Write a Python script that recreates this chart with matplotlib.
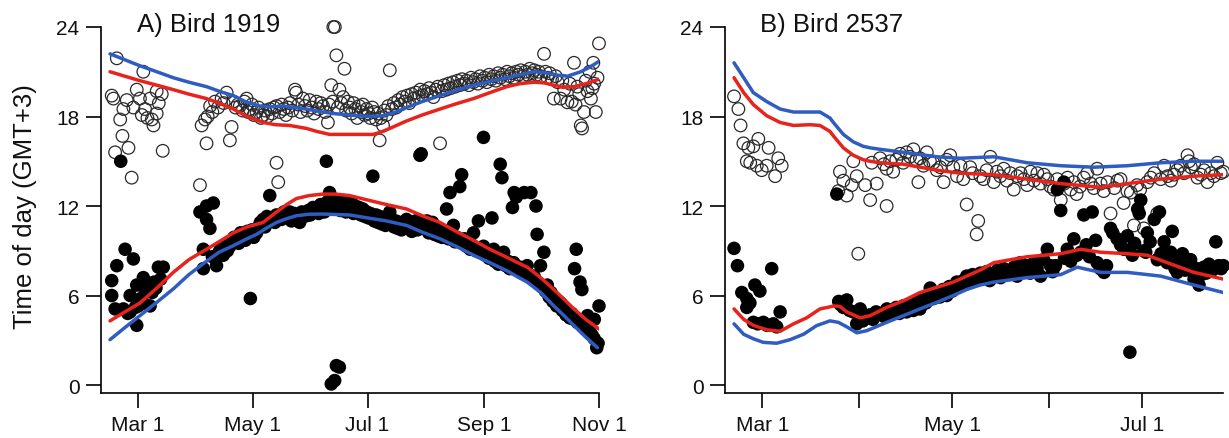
import matplotlib
matplotlib.use("Agg")
import matplotlib.pyplot as plt

plt.rcParams['font.family'] = ['Liberation Sans', 'DejaVu Sans']

# ---------------- Data (day of year, time of day in hours GMT+3) ----------------
# Panel A: Bird 1919
A_eve_day = [46.0, 46.9, 47.8, 48.7, 50.5, 51.7, 52.2, 54.0, 54.9, 56.6, 57.5, 59.3, 61.0, 62.0, 62.8, 63.7,
             65.0, 66.4, 67.3, 68.2, 69.9, 69.9, 71.0, 72.6, 73.1,
             92.9, 93.8, 95.6, 96.4, 97.0, 98.3, 99.5, 100.9, 102.5, 104.4, 105.5, 107.1, 108.8, 109.7, 110.6,
             111.8, 113.0, 114.1, 115.5, 116.5, 117.7, 118.5, 119.4, 120.5, 121.5, 123.0, 124.0, 125.3, 126.5,
             127.5, 128.8, 130.0, 131.2, 132.3, 133.6, 133.6, 134.5, 135.3, 136.3, 137.5, 138.6, 139.8, 140.8,
             142.0, 143.4, 144.0, 145.2, 146.4, 147.7, 148.8, 150.0, 151.2, 152.4, 153.6, 154.8, 156.0, 157.1,
             158.3, 159.5, 160.9, 161.5, 162.7, 163.5, 163.8, 164.6, 165.4, 166.2, 167.0, 168.0, 169.0, 169.7,
             170.6, 171.5, 172.5, 173.5, 174.5, 175.5, 176.5, 177.5, 178.5, 179.5, 180.5, 181.5, 182.5, 183.5,
             184.5, 185.5, 186.5, 187.5, 188.4, 189.0, 190.2, 191.0, 192.0, 193.0, 193.8, 195.0, 196.0, 197.2,
             198.3, 199.5, 200.6, 201.8, 203.0, 204.2, 205.4, 206.5, 207.7, 208.8, 210.0, 211.2, 212.3, 213.5,
             214.7, 215.8, 217.0, 218.2, 219.4, 220.5, 221.5, 222.7, 223.9, 225.0, 226.2, 227.4, 228.6, 229.8,
             231.0, 232.2, 233.4, 234.6, 235.8, 237.0, 238.2, 239.4, 240.6, 241.8, 243.0, 244.2, 245.4, 246.6,
             247.8, 249.0, 250.2, 251.4, 252.6, 253.8, 255.0, 256.2, 257.4, 258.6, 259.8, 261.0, 262.2, 263.4,
             264.6, 265.8, 267.0, 268.2, 269.4, 270.6, 271.8, 273.0, 274.2, 275.8, 276.5, 277.6, 278.8, 280.0,
             281.0, 282.0, 283.0, 284.6, 285.5, 286.5, 288.2, 289.5, 290.5, 291.7, 292.5, 293.5, 294.5, 295.3,
             296.0, 297.0, 298.0, 298.9, 300.0, 300.7, 301.5, 302.0, 302.4, 303.3, 304.2, 305.0]
A_eve_val = [19.4, 19.2, 15.6, 21.9, 17.8, 16.7, 18.5, 19.1, 15.9, 13.9, 18.6, 19.8, 19.2, 18.1, 21.0, 18.5,
             17.9, 19.2, 17.8, 17.4, 19.7, 18.2, 18.9, 19.5, 15.7,
             13.4, 17.4, 17.8, 16.2, 18.0, 18.7, 18.3, 19.0, 18.6, 19.2, 18.9, 19.6, 16.4, 17.3, 19.0,
             18.6, 18.8, 18.7, 18.4, 19.0, 19.2, 18.3, 18.5, 18.8, 18.1, 18.3, 18.6, 17.9, 18.1,
             18.4, 18.0, 18.5, 18.2, 18.6, 18.7, 14.9, 13.6, 18.3, 18.8, 18.5, 18.1, 18.6, 18.9,
             18.4, 19.8, 19.6, 18.8, 18.3, 19.2, 18.7, 18.4, 19.1, 18.6, 18.2, 19.0, 18.5, 18.9,
             18.7, 18.3, 17.6, 18.8, 20.1, 19.0, 24.0, 24.0, 22.1, 18.6, 19.8, 18.9, 19.3, 21.2,
             18.4, 19.0, 18.6, 18.2, 18.9, 18.5, 17.9, 18.7, 18.3, 18.8, 18.1, 18.5, 18.2, 17.9,
             18.6, 18.3, 17.8, 18.2, 16.4, 17.9, 17.4, 18.4, 18.1, 18.7, 21.1, 18.5, 18.9, 18.6,
             19.1, 18.8, 19.3, 19.0, 19.4, 18.9, 19.5, 19.2, 19.6, 19.3, 19.8, 19.4, 19.7, 19.5,
             19.9, 19.6, 19.3, 19.8, 20.0, 16.2, 19.7, 20.1, 19.8, 20.2, 19.9, 20.3, 20.0, 20.4,
             20.1, 20.5, 20.2, 20.4, 20.1, 20.6, 20.3, 20.5, 20.2, 20.7, 20.4, 20.6, 20.3, 20.8,
             20.5, 20.7, 20.4, 20.9, 20.6, 20.8, 20.5, 21.0, 20.7, 20.9, 20.6, 21.0, 20.8, 21.1,
             20.7, 21.0, 20.8, 21.2, 20.9, 21.1, 20.8, 21.0, 20.7, 22.2, 21.0, 20.6, 20.9, 20.5,
             19.2, 20.7, 20.3, 19.2, 20.4, 19.8, 18.95, 20.2, 19.0, 21.6, 18.8, 20.0, 19.5, 17.4,
             17.2, 18.3, 20.4, 19.7, 21.0, 19.2, 19.9, 21.6, 20.2, 18.3, 20.6, 22.9]

A_mor_day = [46.0, 46.0, 47.8, 48.7, 50.8, 52.2, 53.1, 54.5, 55.8, 55.8, 57.5, 58.5, 59.3, 59.3, 60.2, 61.5,
             62.8, 62.8, 64.0, 65.5, 66.4, 67.5, 68.5, 69.5, 70.8, 72.0, 73.4,
             92.9, 94.7, 94.7, 96.4, 96.4, 98.2, 100.0, 99.5, 101.7, 103.0, 104.0, 105.3, 106.5, 107.5, 108.8,
             110.0, 111.0, 112.3, 113.5, 114.5, 115.9, 117.0, 118.0, 119.4, 119.7, 120.5, 121.5, 123.0, 124.0,
             125.0, 126.5, 127.5, 128.5, 130.0, 131.0, 132.7, 133.5, 135.0, 136.2, 137.5, 138.5, 140.6, 141.5,
             143.0, 144.0, 145.9, 147.0, 148.0, 149.5, 150.5, 151.5, 153.0, 154.8, 156.0, 157.0, 158.3, 159.0,
             160.1, 160.8, 161.8, 162.7, 163.0, 164.0, 164.5, 165.4, 165.4, 166.5, 167.0, 167.5, 168.9, 169.5,
             170.5, 171.5, 172.5, 173.5, 174.5, 175.5, 176.5, 177.5, 178.5, 179.5, 180.5, 181.5, 182.5, 183.5,
             184.8, 185.5, 186.5, 187.5, 188.5, 189.5, 190.5, 191.5, 192.5, 193.8, 195.0, 196.0, 197.0, 198.0,
             199.0, 200.0, 201.0, 202.7, 203.5, 204.5, 205.5, 206.5, 207.5, 208.5, 209.8, 210.5, 211.6, 212.5,
             213.5, 214.5, 215.5, 216.5, 217.5, 218.5, 219.5, 220.5, 221.5, 222.5, 224.0, 225.0, 225.8, 226.5,
             227.6, 228.5, 229.5, 231.0, 232.0, 232.5, 233.5, 234.5, 235.5, 236.5, 237.5, 238.3, 239.5, 240.9,
             241.5, 242.5, 243.6, 243.6, 244.5, 245.5, 246.5, 247.5, 248.1, 249.0, 249.5, 250.5, 251.5, 252.5,
             253.4, 253.5, 254.3, 255.5, 256.5, 257.5, 258.5, 259.0, 259.7, 259.9, 261.0, 262.0, 263.0, 264.0,
             265.2, 266.0, 266.8, 267.5, 268.8, 269.5, 270.5, 271.5, 272.1, 272.8, 273.9, 274.5, 275.7, 276.5,
             277.5, 278.5, 279.5, 280.5, 281.5, 282.5, 283.5, 284.6, 285.5, 286.5, 287.5, 288.5, 289.5, 290.5,
             291.7, 292.0, 292.9, 293.5, 294.9, 295.9, 296.5, 297.5, 298.9, 299.5, 300.5, 301.5, 302.5, 302.5,
             303.8, 304.5, 305.0]
A_mor_val = [7.0, 6.0, 5.1, 8.0, 15.0, 5.1, 9.1, 4.8, 6.0, 4.9, 8.45, 5.2, 6.7, 4.0, 5.3, 5.8,
             7.2, 5.5, 6.3, 6.8, 5.3, 6.2, 6.9, 6.5, 7.9, 7.1, 7.9,
             11.6, 9.1, 7.8, 12.0, 11.1, 10.5, 12.2, 8.6, 8.0, 8.9, 9.2, 8.7, 9.4, 9.0, 9.3,
             9.6, 9.9, 9.8, 9.5, 10.2, 10.0, 9.7, 10.3, 10.0, 5.8, 10.4, 9.9, 10.2, 10.6,
             10.9, 11.1, 10.6, 11.3, 12.7, 11.0, 10.9, 11.4, 11.2, 11.1, 11.6, 11.3, 11.6, 11.0,
             11.5, 11.2, 10.9, 11.6, 11.3, 11.35, 11.7, 11.4, 11.9, 11.8, 11.5, 12.1, 12.0, 11.6,
             15.0, 12.3, 12.9, 0.07, 12.2, 11.8, 0.3, 12.0, 1.3, 12.4, 1.2, 11.7, 11.9, 12.3,
             11.6, 12.1, 11.8, 12.2, 11.5, 12.0, 11.7, 11.9, 11.4, 11.8, 11.3, 11.6, 11.2, 11.5,
             14.0, 11.0, 11.4, 10.9, 11.3, 10.8, 11.2, 10.7, 11.1, 11.6, 10.9, 10.6, 11.0, 10.5,
             10.9, 10.4, 10.8, 11.1, 10.5, 10.9, 10.3, 10.7, 11.0, 10.4, 15.4, 15.5, 10.9, 10.5,
             11.0, 10.2, 10.7, 10.9, 10.1, 10.5, 10.0, 10.4, 9.9, 10.3, 11.8, 9.8, 12.9, 10.1,
             10.7, 9.6, 9.9, 13.3, 14.1, 9.5, 9.8, 9.3, 9.6, 9.1, 9.4, 10.2, 9.0, 11.0,
             8.9, 9.2, 9.3, 16.6, 8.7, 9.0, 8.5, 8.8, 11.2, 9.1, 8.3, 8.6, 8.1, 14.8,
             13.9, 8.4, 8.9, 8.0, 8.3, 7.8, 8.1, 11.9, 8.2, 12.9, 12.6, 7.7, 7.9, 7.5,
             12.9, 7.8, 8.0, 7.4, 12.9, 7.1, 7.3, 12.0, 10.1, 6.8, 8.0, 6.6, 8.9, 6.3,
             6.7, 5.9, 6.2, 5.6, 5.8, 5.3, 5.6, 5.5, 5.0, 5.2, 4.7, 4.9, 4.5, 4.8,
             4.4, 7.8, 9.1, 4.2, 6.9, 6.4, 3.9, 4.1, 4.65, 3.7, 3.5, 3.3, 4.4, 3.1,
             2.5, 2.8, 5.3]

A_eve_blue_day = [45.1, 53, 61, 70, 78.7, 87, 96.4, 103, 110.6, 117, 124.7, 131, 137.1, 143, 149.5, 156,
                  163.6, 172.4, 182, 190, 196, 202.7, 211, 220.5, 229, 238.3, 247, 256, 263, 270.4, 276,
                  281, 288.2, 295.3, 300, 305]
A_eve_blue_val = [22.2, 21.8, 21.4, 21.0, 20.6, 20.3, 20.0, 19.7, 19.4, 19.0, 18.7, 18.65, 18.7, 18.6, 18.5, 18.35,
                  18.2, 18.1, 18.0, 18.05, 18.25, 18.6, 19.0, 19.4, 19.75, 20.1, 20.35, 20.6, 20.8, 21.0, 20.95,
                  20.8, 20.7, 21.0, 21.3, 21.7]
A_eve_red_day = [45.1, 53, 61, 70, 78.7, 87, 96.4, 103, 110.6, 118, 126.5, 133, 140.6, 149.5, 155, 161.8,
                 172.4, 184.9, 189, 193.8, 202.7, 211, 220.5, 229, 238.3, 247, 256, 263, 270.4, 276, 281,
                 286, 291.7, 298, 305]
A_eve_red_val = [21.0, 20.7, 20.4, 20.1, 19.8, 19.5, 19.2, 18.9, 18.5, 18.0, 17.6, 17.45, 17.4, 17.2, 17.0, 16.8,
                 16.8, 16.8, 16.95, 17.2, 17.7, 18.1, 18.5, 18.85, 19.2, 19.6, 20.0, 20.2, 20.3, 20.25, 20.1,
                 19.95, 20.0, 20.2, 20.5]
A_mor_blue_day = [45.1, 53, 61, 70, 78.7, 87, 96.4, 103, 110.6, 117, 123, 128, 133.6, 139, 144.2, 151,
                  158.3, 165, 172.4, 182, 192, 202.7, 211, 220.5, 229, 238.3, 247, 256, 261, 266.8, 274,
                  281, 286, 291.7, 298, 304.2]
A_mor_blue_val = [3.04, 3.85, 4.65, 5.55, 6.44, 7.4, 8.3, 8.9, 9.34, 9.75, 10.1, 10.5, 10.9, 11.15, 11.35, 11.45,
                  11.46, 11.43, 11.4, 11.2, 11.0, 10.7, 10.25, 9.8, 9.3, 8.7, 8.2, 7.66, 7.3, 6.9, 6.2,
                  5.3, 4.7, 3.98, 3.2, 2.5]
A_mor_red_day = [45.1, 53, 61, 70, 78.7, 87, 96.4, 103, 110.6, 118, 126.5, 133.6, 139, 144.2, 151, 158.3,
                 165, 172.4, 182, 192, 202.7, 211, 220.5, 229, 238.3, 247, 256, 261, 266.8, 274, 281, 286,
                 291.7, 298, 305]
A_mor_red_val = [4.3, 4.9, 5.5, 6.5, 7.55, 8.4, 9.1, 9.6, 10.2, 10.6, 10.9, 11.6, 12.1, 12.5, 12.7, 12.8,
                 12.8, 12.7, 12.4, 12.1, 11.8, 11.35, 10.9, 10.3, 9.7, 9.1, 8.56, 8.25, 7.9, 7.2, 6.4, 5.8,
                 5.1, 4.4, 3.75]

# Panel B: Bird 2537
B_eve_day = [50.9, 52.3, 53.0, 53.9, 55.0, 55.5, 56.1, 57.1, 58.2, 58.7, 59.8, 61.4, 62.0, 64.1, 65.1, 66.2,
             84.4, 84.9, 86.0, 87.1, 88.7, 89.2, 90.3, 90.8, 93.0, 94.6, 95.1, 96.7, 97.8, 99.0, 99.9, 99.9,
             101.0, 102.0, 103.0, 104.2, 105.2, 106.3, 107.4, 108.5, 109.5, 110.1, 110.6, 111.7, 112.8, 113.8,
             114.9, 116.0, 117.1, 118.2, 119.2, 120.3, 121.3, 122.5, 123.6, 124.5, 125.6, 126.7, 127.5, 128.8,
             129.3, 130.0, 131.0, 132.0, 133.2, 134.3, 135.3, 136.4, 137.5, 138.5, 139.6, 140.7, 141.8, 142.9,
             144.0, 145.0, 146.1, 147.2, 148.3, 149.3, 150.4, 151.5, 152.5, 153.6, 154.7, 155.8, 156.9, 158.0,
             159.0, 160.0, 160.9, 162.0, 163.2, 164.3, 165.4, 166.4, 167.5, 168.6, 169.6, 170.8, 171.8, 173.0,
             174.0, 175.0, 176.0, 177.2, 178.3, 179.3, 180.3, 181.3, 182.5, 183.6, 184.7, 185.8, 186.8, 187.9,
             189.0, 190.1, 191.2, 192.2, 193.2, 194.3, 195.4, 196.5, 197.0, 197.6, 198.6, 199.7, 200.8, 201.8,
             202.9, 204.0, 205.0, 206.1, 207.2, 208.0]
B_eve_val = [19.35, 18.5, 17.4, 16.2, 15.0, 15.9, 14.9, 16.0, 14.7, 16.5, 14.4, 14.7, 15.9, 14.0, 15.2, 14.7,
             13.0, 14.3, 13.7, 12.7, 13.4, 15.0, 14.0, 8.8, 13.4, 12.4, 14.9, 13.5, 15.2, 14.8, 12.0, 14.5,
             15.0, 14.3, 15.1, 15.5, 14.9, 15.6, 15.3, 15.8, 15.1, 13.6, 15.2, 14.7, 15.6, 15.0,
             14.9, 14.4, 14.6, 13.6, 15.1, 15.4, 14.6, 14.0, 14.7, 13.8, 12.1, 14.6, 14.2, 10.1,
             11.0, 14.0, 13.8, 14.4, 15.3, 13.6, 14.3, 14.0, 14.5, 13.7, 14.2, 13.1, 14.0, 14.2,
             13.8, 13.4, 14.3, 13.7, 14.2, 13.5, 14.1, 13.8, 13.3, 13.1, 13.8, 12.4, 13.5, 13.9,
             13.1, 13.6, 12.8, 13.3, 13.9, 14.2, 13.5, 13.2, 14.5, 13.5, 13.0, 13.6, 11.5, 13.2,
             13.7, 13.8, 12.2, 13.0, 12.9, 10.7, 13.4, 13.1, 10.5, 13.6, 13.9, 14.2, 11.5, 13.8,
             14.7, 14.0, 13.7, 14.1, 14.4, 14.7, 14.2, 15.4, 15.0, 14.6, 14.8, 13.9, 14.1, 14.4,
             13.6, 14.2, 14.0, 14.9, 14.2, 14.3]

B_mor_day = [50.9, 52.0, 53.4, 55.0, 55.0, 56.0, 57.1, 57.6, 58.5, 59.2, 60.3, 61.5, 62.5, 63.0, 63.5, 64.6,
             65.7, 83.9, 84.5, 85.0, 86.0, 87.1, 88.0, 89.2, 90.3, 91.4, 92.3, 93.5, 94.5, 95.5, 96.5, 97.8,
             99.0, 100.0, 101.0, 102.0, 103.0, 104.0, 105.2, 106.3, 107.3, 108.5, 109.5, 110.6, 111.5, 112.5,
             113.9, 115.0, 116.0, 117.0, 118.0, 119.2, 120.0, 121.0, 122.4, 123.6, 124.5, 125.6, 126.5, 127.5,
             129.0, 130.0, 131.0, 132.0, 133.0, 134.3, 135.5, 136.5, 137.5, 138.5, 139.7, 140.8, 141.8, 142.9,
             144.0, 145.0, 146.0, 147.2, 148.2, 149.3, 150.3, 151.5, 152.5, 153.2, 154.1, 154.7, 155.8, 156.8,
             157.0, 157.9, 159.0, 160.0, 161.0, 162.2, 163.2, 164.0, 165.0, 165.9, 167.0, 167.5, 168.5, 169.7,
             170.5, 171.8, 172.5, 173.9, 175.0, 176.1, 177.2, 178.0, 178.8, 179.5, 180.5, 181.0, 181.5, 182.5,
             183.1, 183.6, 184.5, 185.8, 186.8, 187.5, 188.0, 189.0, 190.0, 191.1, 191.6, 192.5, 193.2, 194.0,
             194.9, 195.8, 196.5, 197.5, 198.6, 199.5, 200.2, 201.0, 201.8, 202.5, 203.4, 204.5, 205.6, 206.5,
             207.3, 208.0]
B_mor_val = [9.16, 8.0, 6.2, 5.8, 5.2, 5.5, 4.2, 6.7, 4.1, 6.3, 4.2, 4.0, 4.0, 7.8, 4.1, 3.9,
             4.9, 12.8, 5.6, 5.4, 5.2, 5.7, 5.0, 4.9, 4.1, 5.1, 4.3, 4.5, 4.7, 4.4, 4.9, 4.8,
             4.6, 5.1, 4.7, 4.9, 5.2, 4.8, 5.3, 4.9, 5.4, 5.0, 5.6, 5.1, 5.8, 5.5,
             6.5, 5.8, 6.1, 5.9, 6.4, 6.0, 6.6, 6.3, 6.9, 6.7, 7.0, 7.3, 6.9, 7.4,
             7.1, 7.5, 7.2, 7.6, 7.0, 7.3, 7.7, 7.2, 7.8, 7.4, 7.55, 7.9, 7.3, 8.2,
             7.7, 8.0, 7.5, 8.2, 7.8, 7.3, 8.4, 9.1, 8.0, 7.6, 8.0, 13.1, 11.7, 13.6,
             8.5, 9.1, 8.3, 9.8, 8.7, 8.9, 11.4, 9.4, 8.6, 11.6, 9.7, 8.2, 7.8, 7.55,
             8.0, 10.5, 10.2, 9.8, 9.4, 9.1, 10.0, 2.2, 8.7, 9.5, 11.8, 11.5, 12.4, 9.0,
             8.9, 10.2, 9.6, 11.1, 8.4, 11.6, 8.8, 9.6, 8.2, 8.9, 10.3, 7.8, 7.55, 8.4,
             8.8, 7.7, 8.0, 8.4, 7.1, 7.8, 6.7, 7.4, 7.9, 7.5, 8.1, 7.7, 9.6, 8.0,
             7.8, 8.0]

B_eve_blue_day = [50.9, 54.0, 57.1, 61.4, 65.7, 70.0, 73.2, 78.5, 81.7, 82.8, 86.0, 89.2, 92.4, 94.6, 97.8,
                  105.3, 116, 123.6, 134.3, 145, 155.8, 166.5, 177.2, 187.9, 198.6, 208]
B_eve_blue_val = [21.6, 20.6, 19.6, 19.0, 18.5, 18.3, 18.3, 18.3, 17.9, 17.6, 16.8, 16.3, 16.0, 15.9, 15.8,
                  15.6, 15.3, 15.2, 15.3, 14.9, 14.7, 14.6, 14.7, 14.9, 15.0, 15.0]
B_eve_red_day = [50.9, 54.0, 57.1, 61.4, 65.7, 70.0, 75.3, 78.5, 81.7, 82.8, 86.0, 89.2, 92.4, 94.6, 97.8,
                 105.3, 116, 123.6, 134.3, 145, 155.8, 168.6, 177.2, 187.9, 198.6, 208]
B_eve_red_val = [20.6, 19.6, 18.8, 18.05, 17.6, 17.4, 17.45, 17.4, 17.0, 16.7, 15.9, 15.4, 15.1, 15.0, 14.9,
                 14.8, 14.4, 14.2, 14.1, 13.8, 13.5, 13.25, 13.5, 13.8, 14.0, 14.1]
B_mor_blue_day = [50.9, 54.0, 57.1, 60.3, 64.6, 68.9, 73.2, 77.4, 81.7, 84.4, 87.1, 90.3, 93.5, 99.9, 105.3,
                  110.6, 116, 121.3, 125.6, 129.9, 134.3, 145, 155.8, 161.1, 168.6, 177.2, 187.9, 198.6, 208]
B_mor_blue_val = [4.1, 3.4, 3.1, 2.86, 2.8, 3.04, 3.4, 3.98, 4.3, 4.2, 3.9, 3.5, 3.64, 4.2, 4.65,
                  5.1, 5.54, 6.0, 6.4, 6.7, 6.9, 7.2, 7.4, 7.9, 7.55, 7.55, 7.3, 6.7, 6.2]
B_mor_red_day = [50.9, 54.0, 57.1, 61.4, 65.7, 70.0, 74.2, 78.5, 83.1, 84.9, 87.1, 91.4, 94.6, 99.9, 105.3,
                 110.6, 116, 121.3, 125.6, 129.9, 134.3, 145, 155.8, 162.2, 168.6, 177.2, 183.6, 190, 198.6,
                 208]
B_mor_red_val = [5.1, 4.4, 4.0, 3.7, 3.6, 4.1, 4.5, 5.1, 5.3, 5.27, 4.9, 4.5, 4.65, 5.2, 5.65,
                 6.2, 6.55, 6.9, 7.3, 7.7, 8.2, 8.6, 8.8, 9.1, 8.9, 8.8, 8.7, 8.2, 7.55,
                 7.1]

A_xticks = [60, 121, 182, 244, 305]
A_xlabels = ['Mar 1', 'May 1', 'Jul 1', 'Sep 1', 'Nov 1']
B_xticks = [60, 91, 121, 152, 182]
B_xlabels = ['Mar 1', '', 'May 1', '', 'Jul 1']
y_ticks = [0, 6, 12, 18, 24]

RED = '#e8231c'
BLUE = '#2f5cc0'

fig = plt.figure(figsize=(12.29, 4.39), dpi=100)
axA = fig.add_axes([101 / 1229, 45 / 439, 498 / 1229, 366 / 439])
axB = fig.add_axes([725 / 1229, 45 / 439, 498 / 1229, 366 / 439])


def draw(ax, eve_d, eve_v, mor_d, mor_v, lines, xticks, xlabels, xlim):
    ax.scatter(eve_d, eve_v, s=82, facecolors='none', edgecolors='#2a2a2a', linewidths=0.9,
               clip_on=False, zorder=2)
    ax.scatter(mor_d, mor_v, s=95, c='black', edgecolors='none', clip_on=False, zorder=2)
    for d, v, col in lines:
        ax.plot(d, v, color=col, lw=2.5, solid_capstyle='round', solid_joinstyle='round', zorder=3)
    ax.set_xlim(*xlim)
    ax.set_ylim(-0.536, 24)
    ax.set_xticks(xticks)
    ax.set_xticklabels(xlabels)
    ax.set_yticks(y_ticks)
    ax.set_yticklabels([str(t) for t in y_ticks])
    for s in ['top', 'right']:
        ax.spines[s].set_visible(False)
    for s in ['left', 'bottom']:
        ax.spines[s].set_linewidth(1.2)
    ax.tick_params(axis='both', direction='out', length=10.5, width=1.2, labelsize=15,
                   color='black', labelcolor='#111111')
    ax.tick_params(axis='y', pad=5)
    ax.tick_params(axis='x', pad=5)


draw(axA, A_eve_day, A_eve_val, A_mor_day, A_mor_val,
     [(A_eve_red_day, A_eve_red_val, RED), (A_eve_blue_day, A_eve_blue_val, BLUE),
      (A_mor_blue_day, A_mor_blue_val, BLUE), (A_mor_red_day, A_mor_red_val, RED)],
     A_xticks, A_xlabels, (40.3, 305))
draw(axB, B_eve_day, B_eve_val, B_mor_day, B_mor_val,
     [(B_eve_red_day, B_eve_red_val, RED), (B_eve_blue_day, B_eve_blue_val, BLUE),
      (B_mor_blue_day, B_mor_blue_val, BLUE), (B_mor_red_day, B_mor_red_val, RED)],
     B_xticks, B_xlabels, (48.0, 207.9))

fig.text(137 / 1229, 1 - 32 / 439, 'A) Bird 1919', fontsize=18.5, ha='left', va='baseline', color='#111111')
fig.text(760 / 1229, 1 - 32 / 439, 'B) Bird 2537', fontsize=18.5, ha='left', va='baseline', color='#111111')
fig.text(25 / 1229, 1 - 207 / 439, 'Time of day (GMT+3)', fontsize=18.5, rotation=90,
         ha='center', va='center', color='#111111')

fig.savefig('out.png', dpi=100)
